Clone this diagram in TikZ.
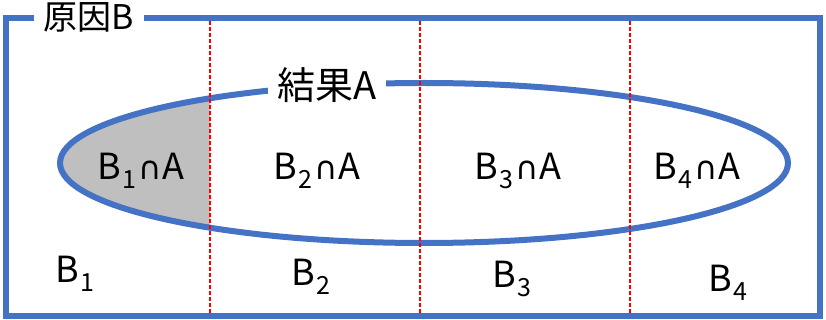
\documentclass[tikz,border=0pt]{standalone}
\usepackage{fontspec}
\setmainfont{Noto Sans CJK JP}
\newfontfamily\symfont{DejaVu Sans}
\usetikzlibrary{shapes.geometric, positioning}
\definecolor{ofblue}{HTML}{4472C4}
\definecolor{greyfill}{HTML}{BFBFBF}
\newcommand{\bsub}[1]{\kern1pt\raisebox{-0.24em}{\fontsize{25}{25}\selectfont #1}}
\newcommand{\capsym}{\kern2pt{\symfont\fontsize{32}{32}\selectfont ∩}\kern1pt}
\tikzset{
  frame/.style={draw=ofblue, line width=6pt},
  divider/.style={draw=red, line width=1.2pt, dash pattern=on 4pt off 2pt},
  title/.style={fill=white, anchor=base, inner xsep=10pt, inner ysep=0pt,
    text height=23pt, text depth=3pt, font=\fontsize{34}{34}\selectfont},
  titlebig/.style={title, inner xsep=9pt, font=\fontsize{38}{38}\selectfont},
  lbl/.style={inner sep=0pt, font=\fontsize{36}{36}\selectfont},
}

\begin{document}
\begin{tikzpicture}[x=1pt, y=-1pt]
\useasboundingbox (0,0) rectangle (826,320);
\draw[frame] (6,18) rectangle (820,316);
\begin{scope}
  \clip (424,163) ellipse [x radius=364, y radius=80];
  \fill[greyfill] (50,70) rectangle (210,260);
\end{scope}
\node[ellipse, frame, minimum width=728pt, minimum height=160pt, inner sep=0pt] (setA) at (424,163) {};
\foreach \x in {210,420,630}
  \draw[divider] (\x,21) -- (\x,313);
\node[title] (titleB) at (89,30) {原因B};
\node[titlebig] (titleA) at (327,100) {結果A};
\node[lbl] (a1) at (141,171) {B\bsub{1}\capsym A};
\node[lbl] (a2) at (317,171) {B\bsub{2}\capsym A};
\node[lbl] (a3) at (518,171) {B\bsub{3}\capsym A};
\node[lbl] (a4) at (697,171) {B\bsub{4}\capsym A};
\node[lbl] (b1) at (75,274) {B\bsub{1}};
\node[lbl] (b2) at (311,277) {B\bsub{2}};
\node[lbl] (b3) at (512,279) {B\bsub{3}};
\node[lbl] (b4) at (728,283) {B\bsub{4}};
\end{tikzpicture}
\end{document}
